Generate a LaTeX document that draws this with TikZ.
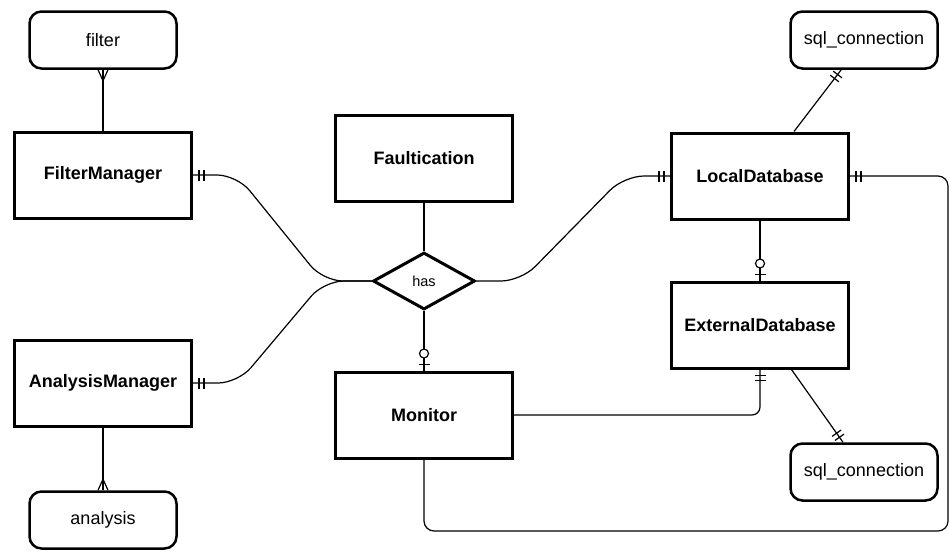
\documentclass[tikz,border=0pt]{standalone}
\usepackage{fontspec}
\setmainfont{Liberation Sans}
\usepackage{tikz}
\usetikzlibrary{shapes.geometric,decorations.markings}
\tikzset{
	entity/.style   = {draw, line width = 3pt, rectangle, minimum width = 177pt,
		minimum height = 86pt, font = \fontsize{18}{20}\selectfont\bfseries},
	attrib/.style   = {draw, line width = 2.5pt, rectangle, rounded corners = 12pt,
		minimum width = 147pt, minimum height = 57pt, font = \fontsize{18}{20}\selectfont},
	rel/.style      = {draw, line width = 3pt, diamond, inner sep = 0pt,
		minimum width = 102pt, minimum height = 57pt, font = \fontsize{14.5}{16}\selectfont},
	link/.style     = {line width = 1.2pt, rounded corners = 20pt},
	% crow's foot notation
	one start/.style  = {postaction = {decorate, decoration = {markings,
		mark = at position 6pt with {\draw[line width = 1.2pt] (0,-5.5pt) -- (0,5.5pt);},
		mark = at position 11pt with {\draw[line width = 1.2pt] (0,-5.5pt) -- (0,5.5pt);}}}},
	one end/.style    = {postaction = {decorate, decoration = {markings,
		mark = at position -6pt with {\draw[line width = 1.2pt] (0,-5.5pt) -- (0,5.5pt);},
		mark = at position -11pt with {\draw[line width = 1.2pt] (0,-5.5pt) -- (0,5.5pt);}}}},
	zero one end/.style = {postaction = {decorate, decoration = {markings,
		mark = at position -6pt with {\draw[line width = 1.2pt] (0,-5.5pt) -- (0,5.5pt);},
		mark = at position -17pt with {\draw[line width = 1.2pt, fill = white] (0,0) circle (4.5pt);}}}},
	many start/.style = {postaction = {decorate, decoration = {markings,
		mark = at position 0 with {\draw[line width = 1.2pt] (11pt,0) -- (0,5pt) (11pt,0) -- (0,-5pt);}}}},
	many end/.style   = {postaction = {decorate, decoration = {markings,
		mark = at position 0.999 with {\draw[line width = 1.2pt] (-11pt,0) -- (0,5pt) (-11pt,0) -- (0,-5pt);}}}}
}
\newcommand{\sqlconn}{sql\_connection}

\begin{document}
\begin{tikzpicture}[x = 1pt, y = -1pt]
	\useasboundingbox (0,0) rectangle (949,552);
	\draw
	% managers and their attributes
	node at (103,40)  [attrib] (fi)  {filter}
	node at (103,175) [entity] (fm)  {FilterManager}
	node at (103,383) [entity] (am)  {AnalysisManager}
	node at (103,520) [attrib] (an)  {analysis}
	% middle column
	node at (424,158) [entity] (fa)  {Faultication}
	node at (424,281) [rel]    (has) {has}
	node at (424,415) [entity] (mon) {Monitor}
	% databases
	node at (760,176) [entity] (ld)  {LocalDatabase}
	node at (760,325) [entity] (ed)  {ExternalDatabase}
	node at (864,40)  [attrib] (sq1) {\sqlconn}
	node at (864,472) [attrib] (sq2) {\sqlconn}
	;

	\draw[link, many start] (fi.south) -- (fm.north);
	\draw[link, many end] (am.south) -- (an.north);
	\draw[link, one start] (fm.east) -- (237,175) -- (323,281) -- (has.west);
	\draw[link, one start] (am.east) -- (238,383) -- (324,281) -- (has.west);
	\draw[link] (fa.south) -- (has.north);
	\draw[link, zero one end] (has.south) -- (mon.north);
	\draw[link, one end] (has.east) -- (521,281) -- (624,176) -- (ld.west);
	\draw[link, zero one end] (ld.south) -- (ed.north);
	\draw[link, one start] (sq1) -- (ld);
	\draw[link, one end] (ed) -- (sq2);
	\draw[link, rounded corners = 8pt, one end] (mon.east) -| (ed.south);
	\draw[link, rounded corners = 10pt, one start] (ld.east) -| (948,531) -| (mon.south);
\end{tikzpicture}
\end{document}
